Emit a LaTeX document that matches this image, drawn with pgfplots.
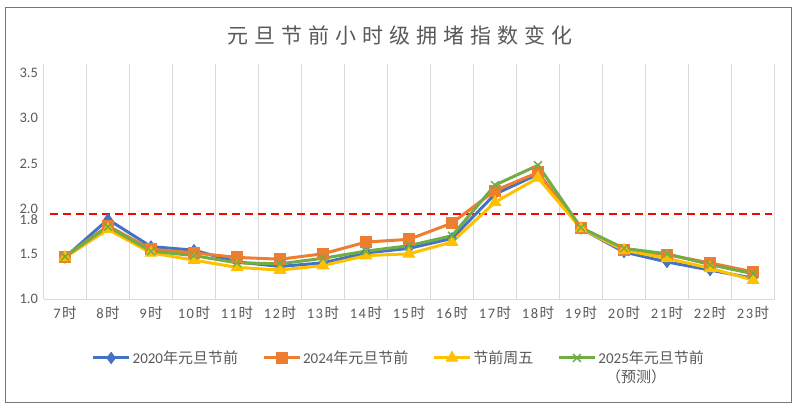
\documentclass[border=0pt]{standalone}
\usepackage{fontspec}
\setmainfont{Carlito}
\newfontfamily\cjk{Noto Sans CJK SC}
\usepackage{pgfplots}
\pgfplotsset{compat=1.18}
\definecolor{cBlue}{HTML}{4472C4}
\definecolor{cOrange}{HTML}{ED7D31}
\definecolor{cYellow}{HTML}{FFC000}
\definecolor{cGreen}{HTML}{70AD47}
\definecolor{txtgray}{HTML}{595959}
\definecolor{gridgray}{HTML}{D9D9D9}
\definecolor{framegray}{HTML}{767676}
\newcommand{\zh}[1]{{\cjk #1}}
\newcommand{\ts}{\hspace{6bp}}
\newcommand{\hr}{\kern1.5bp{\cjk 时}}
\begin{document}
\begin{tikzpicture}
\draw[framegray, line width=1bp] (5bp,9bp) rectangle (791bp,404bp);
\node[text=txtgray, font=\fontsize{21bp}{24bp}\selectfont\cjk] at (400bp,377bp)
  {元\ts 旦\ts 节\ts 前\ts 小\ts 时\ts 级\ts 拥\ts 堵\ts 指\ts 数\ts 变\ts 化};
\begin{axis}[
  at={(43.5bp,113bp)}, anchor=south west,
  scale only axis, width=731bp, height=235bp,
  xmin=-0.5, xmax=16.5, ymin=1, ymax=3.6,
  xtick={0,...,16},
  xticklabels={7\hr,8\hr,9\hr,1\kern1.5bp 0\hr,1\kern1.5bp 1\hr,1\kern1.5bp 2\hr,1\kern1.5bp 3\hr,1\kern1.5bp 4\hr,1\kern1.5bp 5\hr,1\kern1.5bp 6\hr,1\kern1.5bp 7\hr,1\kern1.5bp 8\hr,1\kern1.5bp 9\hr,2\kern1.5bp 0\hr,2\kern1.5bp 1\hr,2\kern1.5bp 2\hr,2\kern1.5bp 3\hr},
  minor xtick={-0.5,0.5,...,16.5},
  xminorgrids,
  minor grid style={draw=gridgray, line width=0.8bp},
  major tick length=0pt, minor tick length=0pt,
  axis x line*=bottom, axis y line*=left,
  x axis line style={draw=gridgray, line width=0.8bp},
  y axis line style={draw=none},
  ytick={1,1.5,2,2.5,3,3.5},
  yticklabels={1.0,1.5,2.0,2.5,3.0,3.5},
  extra y ticks={1.88}, extra y tick labels={1.8},
  tick label style={font=\fontsize{14.5bp}{16bp}\selectfont, text=txtgray},
  yticklabel style={xshift=-2bp},
  xticklabel style={yshift=-4bp},
  clip=false,
  legend style={at={(0.486,-0.251)}, anchor=center, draw=none, fill=none,
    font=\fontsize{15bp}{18bp}\selectfont, text=txtgray,
    /tikz/every even column/.append style={column sep=22bp}},
  legend columns=4,
  legend cell align=left,
  legend image code/.code={\draw[mark repeat=2,mark phase=2,#1] plot coordinates {(0bp,0bp) (18bp,0bp) (36bp,0bp)};},
  every axis plot/.append style={line width=3bp},
]
\addplot[red, line width=2.5bp, dash pattern=on 8bp off 5bp, forget plot] coordinates {(-0.35,1.94) (16.45,1.94)};
\addplot[cBlue, mark=diamond*, mark size=5.5bp, mark options={solid, fill=cBlue, line width=1bp}] coordinates {
(0,1.46)(1,1.88)(2,1.58)(3,1.54)(4,1.41)(5,1.36)(6,1.40)(7,1.51)(8,1.56)(9,1.67)(10,2.16)(11,2.38)(12,1.78)(13,1.52)(14,1.41)(15,1.32)(16,1.23)};
\addlegendentry{2020\zh{年元旦节前}}
\addplot[cOrange, mark=square*, mark size=5.5bp, mark options={solid, fill=cOrange, line width=1bp}] coordinates {
(0,1.47)(1,1.81)(2,1.55)(3,1.51)(4,1.46)(5,1.44)(6,1.50)(7,1.63)(8,1.66)(9,1.84)(10,2.20)(11,2.40)(12,1.78)(13,1.54)(14,1.49)(15,1.40)(16,1.30)};
\addlegendentry{2024\zh{年元旦节前}}
\addplot[cYellow, mark=triangle*, mark size=6.5bp, mark options={solid, fill=cYellow, line width=1bp}] coordinates {
(0,1.46)(1,1.77)(2,1.51)(3,1.43)(4,1.35)(5,1.32)(6,1.37)(7,1.48)(8,1.50)(9,1.63)(10,2.07)(11,2.34)(12,1.78)(13,1.54)(14,1.45)(15,1.34)(16,1.21)};
\addlegendentry{\zh{节前周五}}
\addplot[cGreen, mark=x, mark size=5.5bp, mark options={solid, line width=1.5bp}] coordinates {
(0,1.47)(1,1.80)(2,1.53)(3,1.48)(4,1.40)(5,1.39)(6,1.45)(7,1.53)(8,1.59)(9,1.70)(10,2.26)(11,2.48)(12,1.79)(13,1.56)(14,1.50)(15,1.38)(16,1.28)};
\addlegendentry{2025\zh{年元旦节前}}
\end{axis}
\node[text=txtgray, font=\fontsize{15bp}{18bp}\selectfont\cjk] at (636bp,35bp) {（预测）};
\pgfresetboundingbox
\path (0bp,0bp) rectangle (800bp,412bp);
\end{tikzpicture}
\end{document}
